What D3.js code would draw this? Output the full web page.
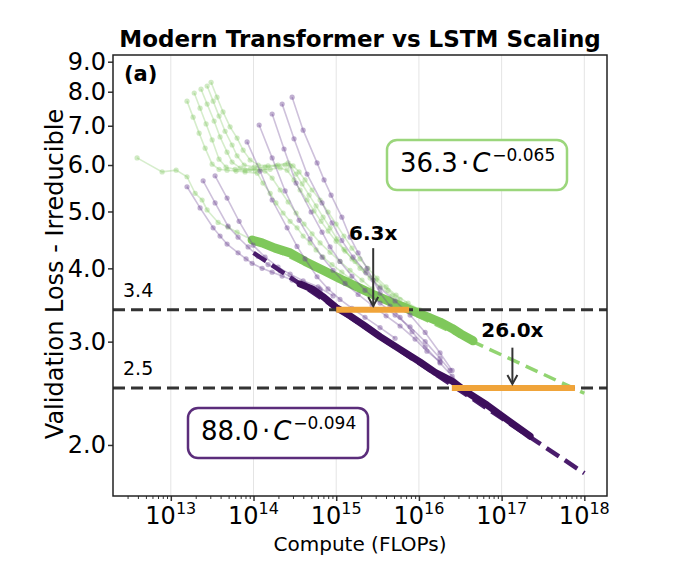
<!DOCTYPE html>
<html lang="en">
<head>
<meta charset="UTF-8">
<title>Modern Transformer vs LSTM Scaling</title>
<script src="https://d3js.org/d3.v7.min.js"></script>
<style>
  body { margin: 0; background: #ffffff; }
  svg text { font-family: "DejaVu Sans", sans-serif; fill: #000; }
</style>
</head>
<body>
<svg id="chart" width="680" height="574"></svg>
<script>
// ---- data: [compute (FLOPs), loss - irreducible] ----
const lstmRuns = [
  [[3.91e12,6.17],[7.85e12,5.84],[1.16e13,5.88],[1.57e13,5.73],[1.97e13,5.37],[2.39e13,5.23],[2.75e13,5.03],[3.73e13,4.79],[4.92e13,4.70],[6.33e13,4.61],[9.62e13,4.47]],
  [[1.57e13,7.71],[1.86e13,7.24],[2.20e13,6.80],[2.60e13,6.41],[3.16e13,6.02],[3.83e13,5.90],[4.79e13,5.88],[6.16e13,5.86],[7.91e13,5.84],[1.11e14,5.81],[1.30e14,5.59],[1.59e14,5.37],[1.87e14,5.17],[2.28e14,4.97],[2.77e14,4.81],[3.36e14,4.69],[3.98e14,4.54],[4.83e14,4.42],[5.71e14,4.30],[6.93e14,4.18],[8.91e14,4.06],[1.17e15,3.94],[1.47e15,3.84]],
  [[1.92e13,7.96],[2.26e13,7.50],[2.67e13,7.05],[3.16e13,6.62],[3.83e13,6.14],[4.66e13,5.95],[5.99e13,5.90],[7.91e13,5.88],[1.05e14,5.88],[1.38e14,5.86],[1.68e14,5.70],[2.10e14,5.44],[2.62e14,5.19],[3.27e14,4.97],[4.09e14,4.76],[5.11e14,4.58],[6.38e14,4.42],[8.43e14,4.26],[1.11e15,4.11],[1.47e15,3.97],[2.05e15,3.82],[2.72e15,3.69]],
  [[2.32e13,8.08],[2.75e13,7.62],[3.34e13,7.13],[3.94e13,6.70],[4.79e13,6.31],[5.51e13,6.07],[6.89e13,5.93],[9.10e13,5.90],[1.20e14,5.90],[1.59e14,5.90],[2.10e14,5.93],[2.55e14,5.88],[3.09e14,5.66],[3.66e14,5.44],[4.44e14,5.23],[5.40e14,5.01],[6.56e14,4.81],[7.97e14,4.63],[9.97e14,4.45],[1.28e15,4.28],[1.69e15,4.11],[2.23e15,3.96],[3.03e15,3.82],[4.24e15,3.67],[5.92e15,3.54]],
  [[2.75e13,8.18],[3.25e13,7.71],[3.83e13,7.27],[4.53e13,6.85],[5.51e13,6.49],[6.33e13,6.22],[7.70e13,6.00],[1.02e14,5.95],[1.38e14,5.95],[1.87e14,5.98],[2.41e14,6.00],[2.77e14,5.98],[3.27e14,5.79],[3.87e14,5.57],[4.70e14,5.33],[5.71e14,5.11],[6.93e14,4.89],[8.43e14,4.69],[1.02e15,4.49],[1.24e15,4.31],[1.55e15,4.15],[1.94e15,4.00],[2.57e15,3.85],[3.39e15,3.72],[4.73e15,3.59],[6.80e15,3.48],[9.76e15,3.40],[1.36e16,3.32]],
  [[3.07e13,8.30],[3.62e13,7.83],[4.28e13,7.39],[5.21e13,6.97],[6.33e13,6.67],[7.49e13,6.36],[9.10e13,6.12],[1.14e14,6.00],[1.50e14,5.98],[1.98e14,6.00],[2.62e14,6.05],[3.01e14,5.98],[3.56e14,5.84],[4.20e14,5.66],[5.11e14,5.44],[6.38e14,5.23],[7.97e14,4.99],[9.97e14,4.76],[1.24e15,4.54],[1.55e15,4.33],[1.94e15,4.15],[2.42e15,4.00],[3.12e15,3.85],[4.01e15,3.72],[5.29e15,3.60],[7.40e15,3.49],[1.03e16,3.40],[1.48e16,3.30],[2.19e16,3.19],[3.14e16,3.09],[4.38e16,3.00]]
];

const transformerRuns = [
  [[1.57e13,5.51],[2.26e13,5.07],[3.25e13,4.69],[3.94e13,4.54],[4.79e13,4.40],[6.51e13,4.25],[8.13e13,4.15],[9.62e13,4.08],[1.27e14,4.00],[1.68e14,3.94],[2.22e14,3.88],[2.93e14,3.82],[3.87e14,3.76],[5.11e14,3.70],[6.38e14,3.66]],
  [[2.46e13,5.64],[3.43e13,5.17],[4.92e13,4.72],[6.51e13,4.52],[8.60e13,4.35],[1.14e14,4.19],[1.50e14,4.06],[2.10e14,3.96],[2.93e14,3.85],[4.20e14,3.76],[6.38e14,3.69]],
  [[3.43e13,5.75],[4.79e13,5.27],[6.70e13,4.81],[9.89e13,4.38],[1.38e14,4.18],[1.98e14,4.02],[2.77e14,3.91],[3.98e14,3.81],[6.03e14,3.72],[9.16e14,3.59]],
  [[8.36e13,6.57],[1.20e14,5.86],[1.68e14,5.23],[2.55e14,4.69],[3.36e14,4.36],[4.20e14,4.15],[5.87e14,3.87],[7.97e14,3.69],[1.11e15,3.54],[1.55e15,3.42],[2.23e15,3.30],[3.39e15,3.17],[5.15e15,3.04]],
  [[1.17e14,7.02],[1.68e14,6.17],[2.41e14,5.42],[3.56e14,4.83],[4.83e14,4.49],[6.74e14,4.18],[9.16e14,3.97],[1.28e15,3.77],[1.84e15,3.61],[2.72e15,3.46],[4.01e15,3.32],[5.92e15,3.19],[8.98e15,3.03],[1.25e16,2.89],[1.80e16,2.77]],
  [[1.68e14,7.33],[2.34e14,6.39],[3.27e14,5.59],[4.97e14,4.99],[6.74e14,4.61],[8.43e14,4.35],[1.11e15,4.11],[1.55e15,3.88],[2.23e15,3.67],[3.39e15,3.49],[5.15e15,3.33],[7.82e15,3.18],[1.19e16,3.00],[1.80e16,2.81],[2.38e16,2.68]],
  [[2.22e14,7.62],[3.09e14,6.65],[4.44e14,5.79],[6.74e14,5.17],[8.91e14,4.78],[1.17e15,4.46],[1.60e15,4.18],[2.29e15,3.93],[3.39e15,3.70],[5.15e15,3.52],[7.82e15,3.33],[1.19e16,3.11],[1.80e16,2.87],[2.52e16,2.68]],
  [[2.93e14,7.83],[3.98e14,6.88],[5.87e14,6.05],[7.13e14,5.66],[8.67e14,5.33],[1.17e15,4.89],[1.47e15,4.52],[1.84e15,4.25],[2.36e15,4.00],[2.79e15,3.82],[3.39e15,3.63],[4.48e15,3.45],[5.92e15,3.30],[8.27e15,3.12],[1.19e16,2.94],[1.80e16,2.76],[2.52e16,2.62],[3.82e16,2.46],[6.66e16,2.33],[1.16e17,2.21],[2.21e17,2.07]]
];

// compute-optimal envelopes (drawn thick)
const lstmFrontier = [[9.62e13,4.47],[1.27e14,4.42],[1.82e14,4.33],[2.77e14,4.25],[4.20e14,4.11],[6.93e14,3.97],[1.11e15,3.84],[1.79e15,3.72],[2.79e15,3.61],[4.48e15,3.51],[7.40e15,3.41],[1.25e16,3.31],[1.80e16,3.24],[2.52e16,3.16],[3.23e16,3.09],[4.51e16,3.01]];
const transformerFrontier = [[3.66e14,3.76],[5.11e14,3.69],[7.13e14,3.57],[9.97e14,3.43],[1.47e15,3.32],[2.23e15,3.19],[3.39e15,3.06],[5.92e15,2.91],[1.03e16,2.77],[1.57e16,2.66],[2.52e16,2.57],[3.82e16,2.46],[6.66e16,2.34],[1.16e17,2.21],[2.21e17,2.07]];

// power-law fits, end points
const lstmFit = [[1e14, 4.47], [1e18, 2.45]];
const transformerFit = [[1e14, 4.25], [1e18, 1.79]];

const thresholds = [3.4, 2.5];
const thresholdLabels = ["3.4", "2.5"];
const gapBars = [[1.0e15, 7.6e15], [2.5e16, 7.7e17]];
const gapLabels = ["6.3x", "26.0x"];
const gapArrowX = [2.8e15, 1.35e17];
const gapLabelY = [4.47, 3.05];
const gapArrowY = [[4.33, 3.45], [2.93, 2.54]];

const xTicks = [1e13, 1e14, 1e15, 1e16, 1e17, 1e18];
const yTicks = [2, 3, 4, 5, 6, 7, 8, 9];

// ---- layout ----
const pLeft = 113, pRight = 607, pTop = 55, pBottom = 496;
const svg = d3.select("#chart");

const x = d3.scaleLog().domain([2.0e12, 1.88e18]).range([pLeft, pRight]);
const y = d3.scaleLog().domain([1.637, 9.24]).range([pBottom, pTop]);
const line = d3.line().x(d => x(d[0])).y(d => y(d[1]));

svg.append("defs").append("clipPath").attr("id", "clip")
  .append("rect").attr("x", pLeft).attr("y", pTop)
  .attr("width", pRight - pLeft).attr("height", pBottom - pTop);

// vertical grid
svg.append("g").selectAll("line").data(xTicks).join("line")
  .attr("x1", d => x(d)).attr("x2", d => x(d))
  .attr("y1", pTop).attr("y2", pBottom)
  .attr("stroke", "#e4e4e4").attr("stroke-width", 1);

const plot = svg.append("g").attr("clip-path", "url(#clip)");

function drawRuns(runs, color, r, lineOp, dotOp) {
  const g = plot.append("g");
  runs.forEach(run => {
    g.append("path").datum(run).attr("d", line)
      .attr("fill", "none").attr("stroke", color)
      .attr("stroke-opacity", lineOp).attr("stroke-width", 1.6);
    g.selectAll(null).data(run).enter().append("circle")
      .attr("cx", d => x(d[0])).attr("cy", d => y(d[1])).attr("r", r)
      .attr("fill", color).attr("fill-opacity", dotOp);
  });
}

function drawPath(data, color, width, dash) {
  plot.append("path").datum(data).attr("d", line)
    .attr("fill", "none").attr("stroke", color).attr("stroke-width", width)
    .attr("stroke-linejoin", "round").attr("stroke-linecap", dash ? "butt" : "round")
    .attr("stroke-dasharray", dash || null);
}

// LSTM (green)
drawRuns(lstmRuns, "#78c256", 2.6, 0.3, 0.35);
drawPath(lstmFit, "#92d471", 3.5, "13,7");
drawPath(lstmFrontier, "#7fc85b", 9);

// Transformer (purple)
drawRuns(transformerRuns, "#6b4391", 2.6, 0.33, 0.42);
drawPath(transformerFit, "#4a1c6c", 4.5, "15,7");
drawPath(transformerFrontier, "#3d0f5c", 7);

// loss thresholds
plot.append("g").selectAll("line").data(thresholds).join("line")
  .attr("x1", pLeft).attr("x2", pRight)
  .attr("y1", d => y(d)).attr("y2", d => y(d))
  .attr("stroke", "#333").attr("stroke-width", 3)
  .attr("stroke-dasharray", "12,6");

// compute gap bars
plot.append("g").selectAll("line").data(gapBars).join("line")
  .attr("x1", d => x(d[0])).attr("x2", d => x(d[1]))
  .attr("y1", (d, i) => y(thresholds[i])).attr("y2", (d, i) => y(thresholds[i]))
  .attr("stroke", "#f0a43a").attr("stroke-width", 6);

// arrows + labels
gapLabels.forEach((lab, i) => {
  const ax = x(gapArrowX[i]);
  const y1 = y(gapArrowY[i][0]), y2 = y(gapArrowY[i][1]);
  svg.append("line").attr("x1", ax).attr("x2", ax).attr("y1", y1).attr("y2", y2)
    .attr("stroke", "#333").attr("stroke-width", 2);
  svg.append("path").attr("d", `M${ax - 5},${y2 - 9}L${ax},${y2}L${ax + 5},${y2 - 9}`)
    .attr("fill", "none").attr("stroke", "#333").attr("stroke-width", 2);
  svg.append("text").attr("x", ax).attr("y", y(gapLabelY[i]))
    .attr("text-anchor", "middle").attr("font-size", 20).attr("font-weight", "bold")
    .text(lab);
});

// threshold labels
svg.append("g").selectAll("text").data(thresholds).join("text")
  .attr("x", 123).attr("y", d => y(d) - 13)
  .attr("font-size", 19).text((d, i) => thresholdLabels[i]);

// fit boxes
function fitBox(bx, by, bw, bh, color, coef, expo) {
  svg.append("rect").attr("x", bx).attr("y", by).attr("width", bw).attr("height", bh)
    .attr("rx", 10).attr("fill", "#fff").attr("stroke", color).attr("stroke-width", 2.5);
  const t = svg.append("text").attr("x", bx + 13).attr("y", by + 32).attr("font-size", 26);
  t.append("tspan").text(coef);
  t.append("tspan").attr("dx", 3).text("\u00b7");
  t.append("tspan").attr("dx", 3).attr("font-style", "italic").text("C");
  t.append("tspan").attr("dx", 2).attr("dy", -11).attr("font-size", 17).text(expo);
}
fitBox(387, 140, 180, 50, "#9bd67c", "36.3", "\u22120.065");
fitBox(188, 408, 180, 50, "#5b2d7b", "88.0", "\u22120.094");

// axes
const xMinor = [];
for (let e = 12; e <= 18; e++) for (let m = 2; m <= 9; m++) {
  const v = m * Math.pow(10, e);
  if (v > 2.0e12 && v < 1.88e18) xMinor.push(v);
}
svg.append("g").attr("transform", `translate(0,${pBottom})`)
  .call(d3.axisBottom(x).tickValues(xMinor).tickSize(3).tickFormat(""))
  .call(g => g.select(".domain").remove())
  .call(g => g.selectAll("line").attr("stroke", "#333"));
svg.append("g").attr("transform", `translate(0,${pBottom})`)
  .call(d3.axisBottom(x).tickValues(xTicks).tickSize(5).tickFormat(""))
  .call(g => g.select(".domain").remove())
  .call(g => g.selectAll("line").attr("stroke", "#333").attr("stroke-width", 1.5));

svg.append("g").selectAll("text").data(xTicks).join("text")
  .attr("x", d => x(d)).attr("y", 524).attr("text-anchor", "middle").attr("font-size", 24)
  .each(function (d) {
    const t = d3.select(this);
    t.append("tspan").text("10");
    t.append("tspan").attr("font-size", 16).attr("dy", -10).text(Math.round(Math.log10(d)));
  });

svg.append("g").attr("transform", `translate(${pLeft},0)`)
  .call(d3.axisLeft(y).tickValues(yTicks).tickSize(5).tickPadding(2).tickFormat(d3.format(".1f")))
  .call(g => g.select(".domain").remove())
  .call(g => g.selectAll("line").attr("stroke", "#333").attr("stroke-width", 1.5))
  .call(g => g.selectAll("text").attr("font-size", 24).attr("font-family", "DejaVu Sans").attr("fill", "#000"));

// frame
svg.append("rect").attr("x", pLeft).attr("y", pTop)
  .attr("width", pRight - pLeft).attr("height", pBottom - pTop)
  .attr("fill", "none").attr("stroke", "#222").attr("stroke-width", 1.5);

// titles
svg.append("text").attr("x", 360).attr("y", 47).attr("text-anchor", "middle")
  .attr("font-size", 23).attr("font-weight", "bold").text("Modern Transformer vs LSTM Scaling");
svg.append("text").attr("x", 124).attr("y", 81).attr("font-size", 21).attr("font-weight", "bold").text("(a)");
svg.append("text").attr("x", 360).attr("y", 551).attr("text-anchor", "middle")
  .attr("font-size", 20).text("Compute (FLOPs)");
svg.append("text").attr("transform", "translate(63,274) rotate(-90)").attr("text-anchor", "middle")
  .attr("font-size", 24).text("Validation Loss - Irreducible");
</script>
</body>
</html>
